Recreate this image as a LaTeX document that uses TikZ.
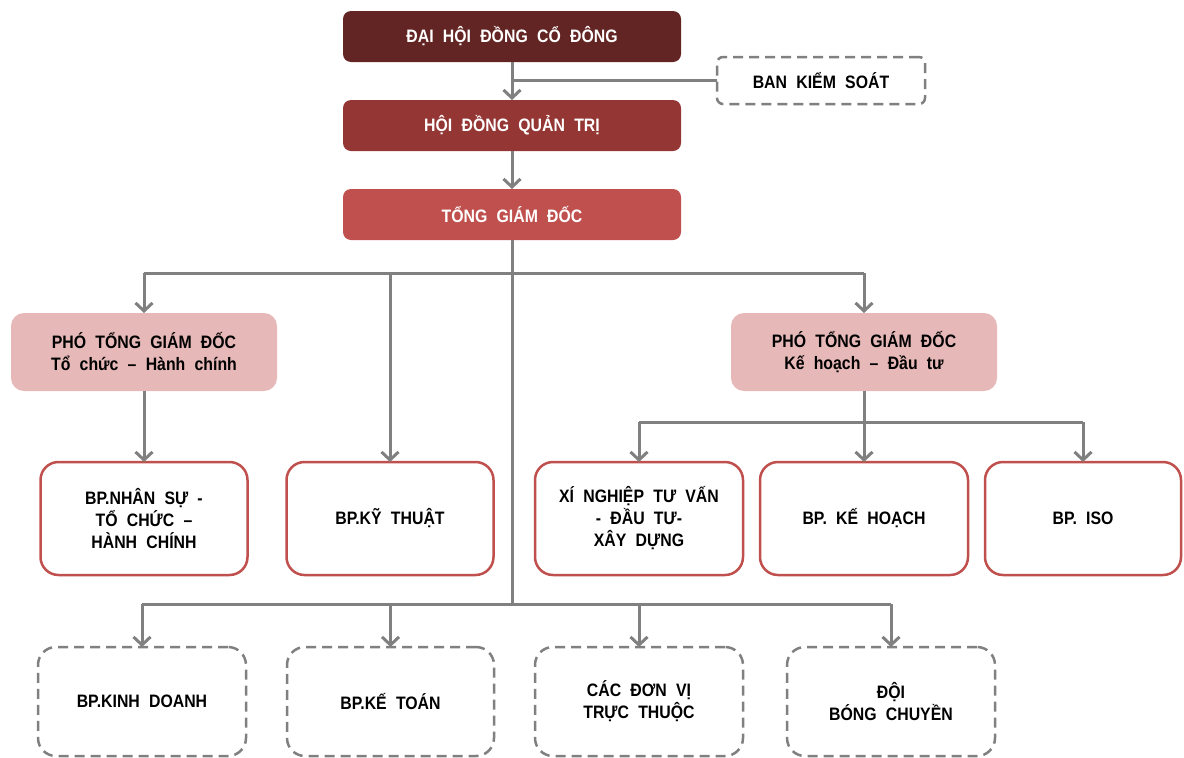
\documentclass[tikz,border=0pt]{standalone}
\usepackage{fontspec}
\setmainfont{Liberation Sans}[WordSpace=2.1, FakeStretch=0.88]
\usetikzlibrary{arrows.meta}
\definecolor{cA}{HTML}{632523}
\definecolor{cB}{HTML}{943634}
\definecolor{cC}{HTML}{C0504D}
\definecolor{cD}{HTML}{E6B8B7}
\definecolor{ln}{HTML}{808080}
\begin{document}
\begin{tikzpicture}[x=1pt,y=-1pt,
  font=\fontsize{18}{22}\selectfont\bfseries,
  box/.style={rounded corners=8pt, align=center, inner sep=0pt, outer sep=0pt},
  topbox/.style={box, text=white, minimum width=338pt, minimum height=51pt},
  ptbox/.style={box, fill=cD, rounded corners=13pt, minimum width=266pt, minimum height=78pt},
  redbox/.style={box, draw=cC, line width=2.5pt, fill=white, rounded corners=18pt, minimum width=207pt, minimum height=113pt},
  dashbox/.style={box, draw=ln, line width=2.5pt, dash pattern=on 10pt off 6pt, rounded corners=18pt, minimum width=207pt, minimum height=109pt},
  line/.style={draw=ln, line width=3pt},
  conn/.style={line, -{Straight Barb[length=8pt,width=17pt]}}
]
\useasboundingbox (0,0) rectangle (1184,758);

\node[topbox, fill=cA] (dh) at (512,36.5) {ĐẠI HỘI ĐỒNG CỔ ĐÔNG};
\node[box, draw=ln, line width=2.5pt, dash pattern=on 10pt off 6pt, rounded corners=6pt, minimum width=208pt, minimum height=47pt] (bks) at (821,80.5) {BAN KIỂM SOÁT};
\node[topbox, fill=cB] (hd) at (512,125.5) {HỘI ĐỒNG QUẢN TRỊ};
\node[topbox, fill=cC] (tg) at (512,214.5) {TỔNG GIÁM ĐỐC};

\node[ptbox] (p1) at (144,352) {PHÓ TỔNG GIÁM ĐỐC\\Tổ chức – Hành chính};
\node[ptbox] (p2) at (864,352) {PHÓ TỔNG GIÁM ĐỐC\\Kế hoạch – Đầu tư};

\node[redbox] (ns) at (144,518.5) {BP.NHÂN SỰ -\\TỔ CHỨC –\\HÀNH CHÍNH};
\node[redbox] (kt) at (390,518.5) {BP.KỸ THUẬT};
\node[redbox, minimum width=208pt] (xn) at (639,518.5) {XÍ NGHIỆP TƯ VẤN\\- ĐẦU TƯ-\\XÂY DỰNG};
\node[redbox, minimum width=208pt] (kh) at (864,518.5) {BP. KẾ HOẠCH};
\node[redbox, minimum width=196pt] (iso) at (1083,518.5) {BP. ISO};

\node[dashbox, minimum width=208pt] (kd) at (142,701.5) {BP.KINH DOANH};
\node[dashbox] (kto) at (390.5,701.5) {BP.KẾ TOÁN};
\node[dashbox, minimum width=208pt] (dv) at (639,701.5) {CÁC ĐƠN VỊ\\TRỰC THUỘC};
\node[dashbox, minimum width=208pt] (doi) at (891,701.5) {ĐỘI\\BÓNG CHUYỀN};

\coordinate (j1) at (512,273);
\coordinate (j2) at (512,604);
\coordinate (j3) at (864,422);

\draw[conn] (dh.south) -- (hd.north);
\draw[line] (dh.south |- bks.west) -- (bks.west);
\draw[conn] (hd.south) -- (tg.north);
\draw[line] (tg.south) -- (j2);
\draw[line] (p1.north |- j1) -- (p2.north |- j1);
\draw[conn] (p1.north |- j1) -- (p1.north);
\draw[conn] (p2.north |- j1) -- (p2.north);
\draw[conn] (kt.north |- j1) -- (kt.north);
\draw[conn] (p1.south) -- (ns.north);
\draw[line] (p2.south) -- (j3);
\draw[line] (xn.north |- j3) -- (iso.north |- j3);
\draw[conn] (xn.north |- j3) -- (xn.north);
\draw[conn] (j3) -- (kh.north);
\draw[conn] (iso.north |- j3) -- (iso.north);
\draw[line] (kd.north |- j2) -- (doi.north |- j2);
\draw[conn] (kd.north |- j2) -- (kd.north);
\draw[conn] (kto.north |- j2) -- (kto.north);
\draw[conn] (dv.north |- j2) -- (dv.north);
\draw[conn] (doi.north |- j2) -- (doi.north);
\end{tikzpicture}
\end{document}
